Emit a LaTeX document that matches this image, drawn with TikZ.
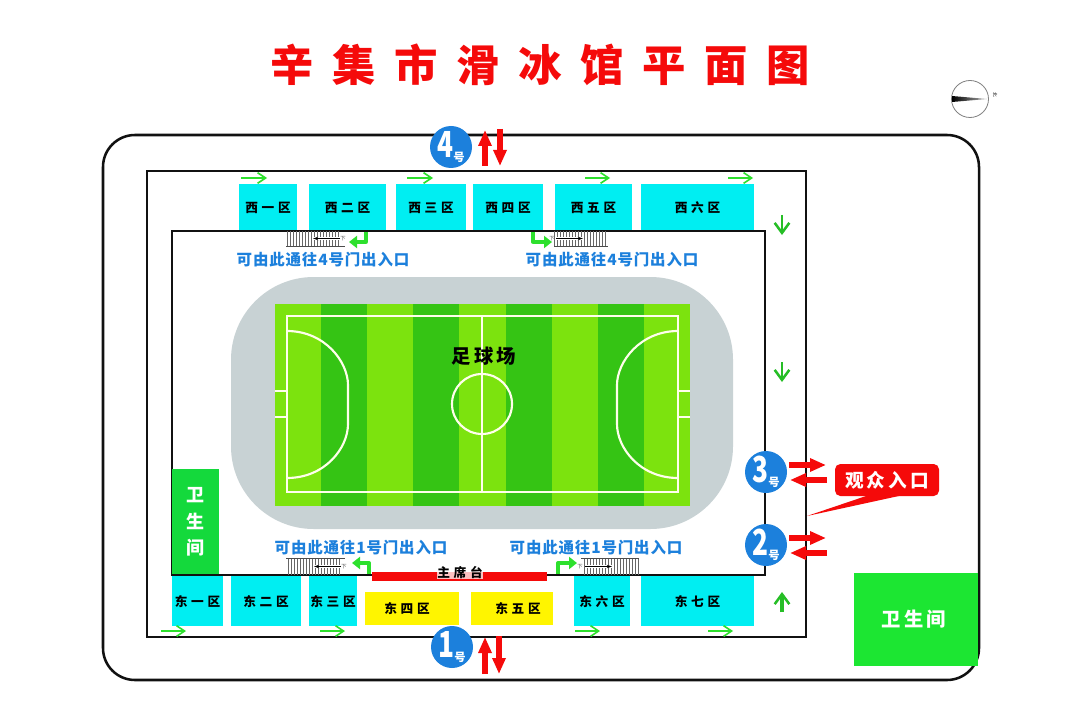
\documentclass[tikz,border=0pt]{standalone}
\usepackage{fontspec}
\setmainfont{Noto Sans CJK SC}
\newfontfamily\titlefont{Noto Sans CJK SC Black}
\usetikzlibrary{arrows.meta}
\definecolor{frameblack}{HTML}{111111}
\definecolor{zonecyan}{HTML}{00EEF2}
\definecolor{zoneyellow}{HTML}{FFF500}
\definecolor{alertred}{HTML}{F50A0A}
\definecolor{wayblue}{HTML}{1C80DC}
\definecolor{pitchlight}{HTML}{7CE30E}
\definecolor{pitchdark}{HTML}{35C414}
\definecolor{trackgray}{HTML}{C8D2D4}
\definecolor{wcgreen}{HTML}{14D93C}
\definecolor{wcgreenb}{HTML}{1CE632}
\definecolor{flowgreen}{HTML}{2DE02D}
\tikzset{
 x=0.75pt,y=-0.75pt,
 frame/.style={draw=frameblack,line width=1.9pt},
 zone/.style={inner sep=0pt,font=\fontsize{9.5pt}{10pt}\selectfont\bfseries},
 wayout/.style={text=wayblue,font=\fontsize{11.6pt}{12pt}\selectfont\bfseries,inner sep=0pt},
 gate/.style={circle,fill=wayblue,minimum size=31.5pt,inner sep=0pt,text=white},
 redarrow/.style={draw=alertred,line width=3.8pt,-{Triangle[length=12pt,width=9.5pt]}},
 thinflow/.style={draw=flowgreen,line width=1.2pt,-{Straight Barb[length=6pt,width=8pt,line width=1.2pt]}},
 turnflow/.style={draw=flowgreen,line width=2.5pt,line join=round,-{Triangle[length=6pt,width=9pt]}},
 upflow/.style={draw=flowgreen!85!black,line width=1.9pt,-{Straight Barb[length=7.5pt,width=11pt,line width=1.9pt]}},
 pitchline/.style={draw=white!92!yellow,line width=1.6pt},
 stairline/.style={draw=black!60,line width=0.4pt},
}
\newcommand{\zs}{\hspace{2.8pt}}
\newcommand{\gatelabel}[1]{\scalebox{0.82}[1.12]{\fontsize{24pt}{24pt}\selectfont\bfseries #1}\raisebox{-3pt}{\fontsize{8.5pt}{9pt}\selectfont\bfseries 号}}
% #1 hatch start, #2 number of steps, #3 top, #4 bottom, #5 arrow from, #6 arrow to, #7 mark x
\newcommand{\stairs}[7]{%
 \foreach \k in {0,...,#2}{\draw[stairline] ({#1+3*\k},#3) -- ({#1+3*\k},#4);}
 \fill[white] (#5,{(#3+#4)/2-1.2}) rectangle (#6,{(#3+#4)/2+1.2});
 \draw[black,line width=0.45pt,-{Stealth[length=4pt,width=2.6pt]}] (#5,{(#3+#4)/2}) -- (#6,{(#3+#4)/2});
 \node[inner sep=0pt,font=\fontsize{4pt}{4pt}\selectfont,text=black!70] at (#7,{(#3+#4)/2}) {下};
}
\begin{document}
\begin{tikzpicture}
\useasboundingbox (0,0) rectangle (1080,720);
\fill[white] (0,0) rectangle (1080,720);
% title
\node[text=alertred,font=\fontsize{32.5pt}{34pt}\selectfont\titlefont,inner sep=0pt] (title) at (540,65)
 {\addfontfeature{LetterSpace=43}辛集市滑冰馆平面图\hspace{-14pt}};
% compass
\draw[gray,line width=0.6pt,fill=white] (970,99) circle (18.5);
\shade[left color=black,right color=black!30] (952,96) -- (987,99) -- (952,102) -- cycle;
\node[inner sep=0pt,rotate=-90,font=\fontsize{3.5pt}{4pt}\selectfont] (north) at (995,95) {北};
% frames
\draw[frame,rounded corners=24pt] (103,135) rectangle (979,680);
\draw[frame] (147,171) rectangle (806,637);
% wc 2
\fill[wcgreenb] (854,573) rectangle (978,666);
\node[text=white,font=\fontsize{14.5pt}{15pt}\selectfont\bfseries,inner sep=0pt] (wcb) at (914,619) {卫\,生\,间};
% west zones
\foreach \l/\r/\t [count=\i] in {239/297/西\zs 一\zs 区,309/386/西\zs 二\zs 区,396/466/西\zs 三\zs 区,473/543/西\zs 四\zs 区,555/632/西\zs 五\zs 区,641/754/西\zs 六\zs 区}{
 \fill[zonecyan] (\l,184) rectangle (\r,231);
 \node[zone] (w\i) at ({(\l+\r)/2},208) {\t};
}
% east zones
\foreach \l/\r/\t [count=\i] in {172/223/东\zs 一\zs 区,231/301/东\zs 二\zs 区,309/357/东\zs 三\zs 区,574/630/东\zs 六\zs 区,641/754/东\zs 七\zs 区}{
 \fill[zonecyan] (\l,575) rectangle (\r,626);
 \node[zone] (e\i) at ({(\l+\r)/2},602) {\t};
}
\fill[zoneyellow] (365,592) rectangle (459,625);
\node[zone] (e4) at (407,609) {东\zs 四\zs 区};
\fill[zoneyellow] (471,592) rectangle (553,625);
\node[zone] (e5) at (518,609) {东\zs 五\zs 区};
% inner wall
\draw[frame,line width=1.5pt] (172,231) rectangle (765,575);
% wc 1
\fill[wcgreen] (172,469) rectangle (219,574);
\node[text=white,font=\fontsize{13.5pt}{20pt}\selectfont\bfseries,inner sep=0pt,align=center] (wca) at (195.5,522) {卫\\生\\间};
% main stand
\fill[alertred] (372,572) rectangle (547,581);
\node[inner sep=0pt,text=black,font=\fontsize{9.5pt}{10pt}\selectfont\bfseries,fill=white,fill opacity=0.75,text opacity=1,inner ysep=0.5pt] (ms) at (460,572.5) {主\zs 席\zs 台};
% track + pitch
\fill[trackgray,rounded corners=62pt] (231,277) rectangle (733,529);
\foreach \l/\r/\c in {275/321/pitchlight,321/367/pitchdark,367/413/pitchlight,413/459/pitchdark,459/506/pitchlight,506/552/pitchdark,552/598/pitchlight,598/644/pitchdark,644/690/pitchlight}{
 \fill[\c] (\l,304) rectangle (\r,506);
}
\draw[pitchline] (287,316) rectangle (678,492);
\draw[pitchline] (482,316) -- (482,492);
\draw[pitchline] (482,404) circle (30);
\draw[pitchline] (287,331) .. controls (325,331) and (348,362) .. (348,385) -- (348,424) .. controls (348,448) and (325,478) .. (287,478);
\draw[pitchline] (678,331) .. controls (640,331) and (617,362) .. (617,385) -- (617,424) .. controls (617,448) and (640,478) .. (678,478);
\draw[pitchline] (275,391) -- (287,391) (275,417) -- (287,417) (678,391) -- (690,391) (678,417) -- (690,417);
\node[inner sep=0pt,font=\fontsize{14.5pt}{15pt}\selectfont\bfseries] (pitchname) at (484,356) {足\,球\,场};
% stairs
\stairs{287}{17}{231}{246}{340}{313}{343}
\stairs{554}{17}{231}{246}{556}{583}{552}
\stairs{288}{17}{558}{575}{341}{314}{344}
\stairs{584}{18}{558}{575}{585}{612}{580}
\draw[black!70,line width=0.6pt] (286,246) -- (345,246) (554,246) -- (608,246) (286,558) -- (345,558) (581,558) -- (639,558);
% way-out labels
\node[wayout] (t1) at (323,260) {\addfontfeature{LetterSpace=5.5}可由此通往4号门出入口};
\node[wayout] (t2) at (612,260) {\addfontfeature{LetterSpace=5.5}可由此通往4号门出入口};
\node[wayout] (t3) at (361,548) {\addfontfeature{LetterSpace=5.5}可由此通往1号门出入口};
\node[wayout] (t4) at (596,548) {\addfontfeature{LetterSpace=5.5}可由此通往1号门出入口};
% green flow
\draw[turnflow] (366,232) -- (366,242) -- (349,242);
\draw[turnflow] (533,232) -- (533,242) -- (552,242);
\draw[turnflow] (369,574) -- (369,563) -- (352,563);
\draw[turnflow] (558,574) -- (558,563) -- (577,563);
\foreach \a/\b/\y in {241/267/178,407/433/178,585/610/178,728/753/178,161/186/631,320/345/631,575/600/631,708/733/631}{
 \draw[thinflow] (\a,\y) -- (\b,\y);
}
\draw[upflow] (782,215) -- (782,235);
\draw[upflow] (782,362) -- (782,382);
\draw[upflow,line width=2.4pt] (782,612) -- (782,592);
% red arrows
\draw[redarrow] (485,166) -- (485,130);
\draw[redarrow] (500,129) -- (500,166);
\draw[redarrow] (485,674) -- (485,637);
\draw[redarrow] (499,636) -- (499,674);
\draw[redarrow] (789,465) -- (826,465);
\draw[redarrow] (827,480) -- (790,480);
\draw[redarrow] (789,538) -- (826,538);
\draw[redarrow] (827,553) -- (790,553);
% gates
\node[gate] (g4) at (451,147) {\gatelabel{4}};
\node[gate] (g1) at (452,647) {\gatelabel{1}};
\node[gate] (g3) at (766,472) {\gatelabel{3}};
\node[gate] (g2) at (766,545) {\gatelabel{2}};
% audience callout
\fill[alertred] (807,516) -- (872,494) -- (908,494) -- cycle;
\node[fill=alertred,rounded corners=4pt,minimum width=78pt,minimum height=24pt,inner sep=0pt,text=white,font=\fontsize{14pt}{15pt}\selectfont\bfseries] (aud) at (887,480) {观\,众\,入\,口};
\end{tikzpicture}
\end{document}
